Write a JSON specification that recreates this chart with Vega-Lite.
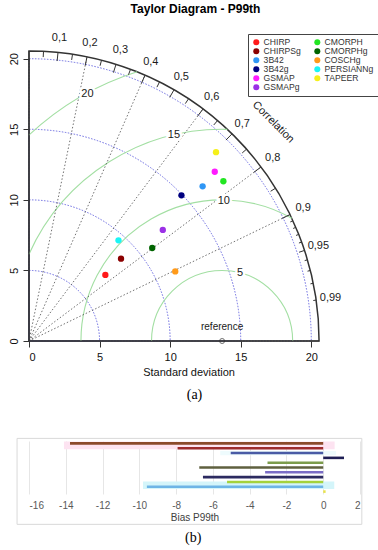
{
  "$schema": "https://vega.github.io/schema/vega-lite/v6.json",
  "background": "white",
  "padding": {"left": 8, "top": 3, "right": 3, "bottom": 3},
  "config": {
    "font": "Liberation Sans",
    "view": {"stroke": null},
    "axis": {"labelFont": "Liberation Sans", "titleFont": "Liberation Sans", "labelOverlap": false}
  },
  "bounds": "flush",
  "spacing": 100,
  "resolve": {"scale": {"color": "independent"}, "legend": {"color": "independent"}},
  "title": {"text": "(b)", "orient": "bottom", "anchor": "middle", "font": "Liberation Serif", "fontSize": 14, "fontWeight": "normal", "color": "#000", "offset": 6},
  "vconcat": [
    {
      "width": 319,
      "height": 319,
      "title": {"text": "Taylor Diagram - P99th", "fontSize": 12, "fontWeight": "bold", "color": "#000", "offset": 6, "anchor": "middle", "dx": 7},
      "layer": [
        {
          "data": {"values": [{"r": 5, "t1": 0, "t2": 90}, {"r": 10, "t1": 0, "t2": 90}, {"r": 15, "t1": 0, "t2": 90}, {"r": 20, "t1": 0, "t2": 90}]},
          "mark": {"type": "arc", "filled": false, "stroke": "#5b5bdc", "strokeWidth": 0.9, "strokeDash": [1.5, 1.5]},
          "encoding": {
            "x": {"datum": 0, "type": "quantitative", "stack": null, "scale": {"domain": [0, 22.6], "nice": false, "zero": true},
              "axis": {"values": [0, 5, 10, 15, 20], "tickCount": 20, "title": "Standard deviation", "domain": false, "grid": false, "tickSize": 6, "tickColor": "#333333", "labelFontSize": 11, "labelColor": "#111111", "labelPadding": 4, "labelOverlap": false, "titleFontSize": 11, "titleFontWeight": "normal", "titleColor": "#111111", "titlePadding": 4}},
            "y": {"datum": 0, "type": "quantitative", "stack": null, "scale": {"domain": [0, 22.6], "nice": false, "zero": true},
              "axis": {"values": [0, 5, 10, 15, 20], "tickCount": 20, "title": null, "domain": false, "grid": false, "tickSize": 6, "tickColor": "#333333", "labelFontSize": 11, "labelColor": "#111111", "labelAngle": -90, "labelPadding": 4, "labelOverlap": false}},
            "radius": {"field": "r", "type": "quantitative", "stack": null, "scale": {"type": "linear", "domain": [0, 22.6], "range": [0, 319], "zero": true, "nice": false}},
            "theta": {"field": "t1", "type": "quantitative", "stack": null, "scale": {"type": "linear", "domain": [0, 360], "range": [0, 6.283185307179586]}},
            "theta2": {"field": "t2"}
          }
        },
        {
          "data": {"values": [{"r": 20.55, "t1": 0, "t2": 90}]},
          "mark": {"type": "arc", "filled": false, "stroke": "#333333", "strokeWidth": 1.5},
          "encoding": {
            "x": {"datum": 0, "type": "quantitative", "stack": null},
            "y": {"datum": 0, "type": "quantitative", "stack": null},
            "radius": {"field": "r", "type": "quantitative", "stack": null},
            "theta": {"field": "t1", "type": "quantitative", "stack": null},
            "theta2": {"field": "t2"}
          }
        },
        {
          "data": {"values": [
            {"r": 5, "t1": -90, "t2": 90},
            {"r": 10, "t1": -90, "t2": 29.6},
            {"r": 15, "t1": -65.8, "t2": 1.4},
            {"r": 20, "t1": -43.2, "t2": -17.5}
          ]},
          "mark": {"type": "arc", "filled": false, "stroke": "#a3dfa3", "strokeWidth": 1.1},
          "encoding": {
            "x": {"datum": 13.68, "type": "quantitative", "stack": null},
            "y": {"datum": 0, "type": "quantitative", "stack": null},
            "radius": {"field": "r", "type": "quantitative", "stack": null},
            "radius2": {"field": "r"},
            "theta": {"field": "t1", "type": "quantitative", "stack": null},
            "theta2": {"field": "t2"}
          }
        },
        {
          "data": {"values": [
            {"x": 0, "y": 0, "x2": 4.11, "y2": 20.135},
            {"x": 0, "y": 0, "x2": 8.22, "y2": 18.834},
            {"x": 0, "y": 0, "x2": 12.33, "y2": 16.44},
            {"x": 0, "y": 0, "x2": 16.44, "y2": 12.33},
            {"x": 0, "y": 0, "x2": 18.495, "y2": 8.958}
          ]},
          "mark": {"type": "rule", "stroke": "#4d4d4d", "strokeWidth": 0.8, "strokeDash": [1.5, 2]},
          "encoding": {
            "x": {"field": "x", "type": "quantitative"},
            "y": {"field": "y", "type": "quantitative"},
            "x2": {"field": "x2"},
            "y2": {"field": "y2"}
          }
        },
        {
          "data": {"values": [
            {"x": 2.055, "y": 20.447, "x2": 1.993, "y2": 19.834},
            {"x": 4.11, "y": 20.135, "x2": 3.987, "y2": 19.531},
            {"x": 6.165, "y": 19.603, "x2": 5.98, "y2": 19.015},
            {"x": 8.22, "y": 18.834, "x2": 7.973, "y2": 18.269},
            {"x": 10.275, "y": 17.797, "x2": 9.967, "y2": 17.263},
            {"x": 12.33, "y": 16.44, "x2": 11.96, "y2": 15.947},
            {"x": 14.385, "y": 14.676, "x2": 13.953, "y2": 14.235},
            {"x": 16.44, "y": 12.33, "x2": 15.947, "y2": 11.96},
            {"x": 18.495, "y": 8.958, "x2": 17.94, "y2": 8.689},
            {"x": 1.0275, "y": 20.524, "x2": 1.007, "y2": 20.114},
            {"x": 3.0825, "y": 20.318, "x2": 3.021, "y2": 19.911},
            {"x": 5.1375, "y": 19.898, "x2": 5.035, "y2": 19.5},
            {"x": 7.1925, "y": 19.25, "x2": 7.049, "y2": 18.865},
            {"x": 9.2475, "y": 18.352, "x2": 9.063, "y2": 17.985},
            {"x": 11.3025, "y": 17.163, "x2": 11.076, "y2": 16.819},
            {"x": 13.3575, "y": 15.617, "x2": 13.09, "y2": 15.304},
            {"x": 15.4125, "y": 13.593, "x2": 15.104, "y2": 13.321},
            {"x": 17.4675, "y": 10.825, "x2": 17.118, "y2": 10.609},
            {"x": 19.5225, "y": 6.417, "x2": 19.132, "y2": 6.288},
            {"x": 18.7005, "y": 8.52, "x2": 18.513, "y2": 8.435},
            {"x": 18.906, "y": 8.054, "x2": 18.717, "y2": 7.973},
            {"x": 19.1115, "y": 7.553, "x2": 18.92, "y2": 7.478},
            {"x": 19.317, "y": 7.011, "x2": 19.124, "y2": 6.941},
            {"x": 19.728, "y": 5.754, "x2": 19.531, "y2": 5.696},
            {"x": 19.9335, "y": 4.996, "x2": 19.734, "y2": 4.946},
            {"x": 20.139, "y": 4.09, "x2": 19.938, "y2": 4.049},
            {"x": 20.3445, "y": 2.899, "x2": 20.141, "y2": 2.87}
          ]},
          "mark": {"type": "rule", "stroke": "#333333", "strokeWidth": 1},
          "encoding": {
            "x": {"field": "x", "type": "quantitative"},
            "y": {"field": "y", "type": "quantitative"},
            "x2": {"field": "x2"},
            "y2": {"field": "y2"}
          }
        },
        {
          "data": {"values": [
            {"x": 0, "y": 0, "x2": 20.55, "y2": 0},
            {"x": 0, "y": 0, "x2": 0, "y2": 20.55}
          ]},
          "mark": {"type": "rule", "stroke": "#333333", "strokeWidth": 1.2},
          "encoding": {
            "x": {"field": "x", "type": "quantitative"},
            "y": {"field": "y", "type": "quantitative"},
            "x2": {"field": "x2"},
            "y2": {"field": "y2"}
          }
        },
        {
          "data": {"values": [
            {"x": 14.96, "y": 4.8, "t": "5"},
            {"x": 13.8, "y": 9.95, "t": "10"},
            {"x": 10.27, "y": 14.56, "t": "15"},
            {"x": 4.14, "y": 17.47, "t": "20"}
          ]},
          "layer": [
            {
              "mark": {"type": "text", "fontSize": 11, "fill": "white", "stroke": "white", "strokeWidth": 5, "align": "center", "baseline": "middle"},
              "encoding": {
                "x": {"field": "x", "type": "quantitative"},
                "y": {"field": "y", "type": "quantitative"},
                "text": {"field": "t"}
              }
            },
            {
              "mark": {"type": "text", "fontSize": 11, "color": "#1a1a1a", "align": "center", "baseline": "middle"},
              "encoding": {
                "x": {"field": "x", "type": "quantitative"},
                "y": {"field": "y", "type": "quantitative"},
                "text": {"field": "t"}
              }
            }
          ]
        },
        {
          "data": {"values": [
            {"x": 2.158, "y": 21.47, "t": "0,1"},
            {"x": 4.316, "y": 21.141, "t": "0,2"},
            {"x": 6.473, "y": 20.584, "t": "0,3"},
            {"x": 8.631, "y": 19.776, "t": "0,4"},
            {"x": 10.789, "y": 18.687, "t": "0,5"},
            {"x": 12.947, "y": 17.262, "t": "0,6"},
            {"x": 15.104, "y": 15.409, "t": "0,7"},
            {"x": 17.262, "y": 12.947, "t": "0,8"},
            {"x": 19.42, "y": 9.405, "t": "0,9"},
            {"x": 20.499, "y": 6.738, "t": "0,95"},
            {"x": 21.362, "y": 3.044, "t": "0,99"}
          ]},
          "mark": {"type": "text", "fontSize": 11, "color": "#1a1a1a", "align": "center", "baseline": "middle"},
          "encoding": {
            "x": {"field": "x", "type": "quantitative"},
            "y": {"field": "y", "type": "quantitative"},
            "text": {"field": "t"}
          }
        },
        {
          "data": {"values": [{"x": 17.3, "y": 15.5, "t": "Correlation"}]},
          "mark": {"type": "text", "fontSize": 11, "color": "#1a1a1a", "align": "center", "baseline": "middle", "angle": 45},
          "encoding": {
            "x": {"field": "x", "type": "quantitative"},
            "y": {"field": "y", "type": "quantitative"},
            "text": {"field": "t"}
          }
        },
        {
          "data": {"values": [{"x": 13.68, "y": 1.0, "t": "reference"}]},
          "mark": {"type": "text", "fontSize": 10, "color": "#1a1a1a", "align": "center", "baseline": "middle"},
          "encoding": {
            "x": {"field": "x", "type": "quantitative"},
            "y": {"field": "y", "type": "quantitative"},
            "text": {"field": "t"}
          }
        },
        {
          "data": {"values": [{"x": 13.68, "y": 0}]},
          "mark": {"type": "point", "shape": "circle", "filled": false, "stroke": "#333333", "strokeWidth": 1, "size": 25},
          "encoding": {
            "x": {"field": "x", "type": "quantitative"},
            "y": {"field": "y", "type": "quantitative"}
          }
        },
        {
          "data": {"values": [
            {"name": "CHIRP", "x": 5.41, "y": 4.68},
            {"name": "CHIRPSg", "x": 6.52, "y": 5.83},
            {"name": "3B42", "x": 12.3, "y": 10.96},
            {"name": "3B42g", "x": 10.8, "y": 10.32},
            {"name": "GSMAP", "x": 13.16, "y": 11.99},
            {"name": "GSMAPg", "x": 9.48, "y": 7.87},
            {"name": "CMORPH", "x": 13.77, "y": 11.32},
            {"name": "CMORPHg", "x": 8.73, "y": 6.59},
            {"name": "COSCHg", "x": 10.36, "y": 4.93},
            {"name": "PERSIANNg", "x": 6.34, "y": 7.13},
            {"name": "TAPEER", "x": 13.25, "y": 13.38}
          ]},
          "mark": {"type": "point", "shape": "circle", "filled": true, "size": 40, "opacity": 1},
          "encoding": {
            "x": {"field": "x", "type": "quantitative"},
            "y": {"field": "y", "type": "quantitative"},
            "color": {
              "field": "name", "type": "nominal",
              "scale": {
                "domain": ["CHIRP", "CHIRPSg", "3B42", "3B42g", "GSMAP", "GSMAPg", "CMORPH", "CMORPHg", "COSCHg", "PERSIANNg", "TAPEER"],
                "range": ["#ff1a1a", "#8b0000", "#2f96f5", "#00007f", "#ff1aff", "#9b30e6", "#22e622", "#006400", "#ff9a1a", "#1af5f5", "#f5f01a"]
              },
              "legend": {"title": null, "orient": "none", "legendX": 219, "legendY": 12, "columns": 2, "symbolType": "circle", "symbolSize": 36, "symbolStrokeWidth": 0, "labelFontSize": 8.6, "labelColor": "#333333", "strokeColor": "#444444", "fillColor": "white", "padding": 4, "rowPadding": 0, "columnPadding": 12, "labelOffset": 3, "cornerRadius": 0, "labelLimit": 100}
            }
          }
        }
      ]
    },
    {
      "width": 331,
      "height": 53,
      "title": {"text": "(a)", "font": "Liberation Serif", "fontSize": 14, "fontWeight": "normal", "color": "#000", "offset": 36, "anchor": "middle"},
      "layer": [
        {
          "data": {"values": [{"x": -16.65, "x2": 2.1, "y": -0.04, "y2": 17.8}]},
          "mark": {"type": "rect", "filled": false, "stroke": "#d9d9d9", "strokeWidth": 1},
          "encoding": {
            "x": {"field": "x", "type": "quantitative", "scale": {"domain": [-16, 2], "nice": false, "zero": false},
              "axis": {"values": [-16, -14, -12, -10, -8, -6, -4, -2, 0, 2], "tickCount": 20, "grid": true, "gridColor": "#e6e6e6", "domain": false, "ticks": false, "labelFontSize": 10, "labelColor": "#595959", "labelPadding": 6, "labelOverlap": false, "labelExpr": "toString(datum.value)", "title": "Bias P99th", "titleFontSize": 10, "titleFontWeight": "normal", "titleColor": "#404040", "titlePadding": 2}},
            "x2": {"field": "x2"},
            "y": {"field": "y", "type": "quantitative", "scale": {"domain": [0.5, 11.5], "reverse": true, "nice": false, "zero": false}, "axis": null},
            "y2": {"field": "y2"}
          }
        },
        {
          "data": {"values": [
            {"x": -14.1, "x2": 0.62, "y": 0.58, "y2": 2.19, "k": "a"},
            {"x": -5.6, "x2": 0.7, "y": 2.6, "y2": 3.45, "k": "b"},
            {"x": -9.8, "x2": 0.6, "y": 8.92, "y2": 10.44, "k": "c"}
          ]},
          "mark": {"type": "rect"},
          "encoding": {
            "x": {"field": "x", "type": "quantitative"},
            "x2": {"field": "x2"},
            "y": {"field": "y", "type": "quantitative"},
            "y2": {"field": "y2"},
            "fill": {"field": "k", "type": "nominal", "legend": null, "scale": {"domain": ["a", "b", "c"], "range": ["#fde3f1", "#eefbfd", "#d4f5fa"]}}
          }
        },
        {
          "data": {"values": [
            {"row": 1, "name": "CHIRP", "bias": -13.77, "zero": 0},
            {"row": 2, "name": "CHIRPSg", "bias": -7.92, "zero": 0},
            {"row": 3, "name": "3B42", "bias": -5.03, "zero": 0},
            {"row": 4, "name": "3B42g", "bias": 1.13, "zero": 0},
            {"row": 5, "name": "GSMAP", "bias": -3.03, "zero": 0},
            {"row": 6, "name": "GSMAPg", "bias": -6.74, "zero": 0},
            {"row": 7, "name": "CMORPH", "bias": -3.16, "zero": 0},
            {"row": 8, "name": "CMORPHg", "bias": -6.54, "zero": 0},
            {"row": 9, "name": "COSCHg", "bias": -5.23, "zero": 0},
            {"row": 10, "name": "PERSIANNg", "bias": -9.59, "zero": 0},
            {"row": 11, "name": "TAPEER", "bias": 0.13, "zero": 0}
          ]},
          "mark": {"type": "rule", "strokeWidth": 2.6},
          "encoding": {
            "x": {"field": "bias", "type": "quantitative"},
            "x2": {"field": "zero"},
            "y": {"field": "row", "type": "quantitative"},
            "color": {
              "field": "name", "type": "nominal", "legend": null,
              "scale": {
                "domain": ["CHIRP", "CHIRPSg", "3B42", "3B42g", "GSMAP", "GSMAPg", "CMORPH", "CMORPHg", "COSCHg", "PERSIANNg", "TAPEER"],
                "range": ["#8b4a2b", "#9e2b2e", "#4a5ba5", "#1f1f55", "#7c9c4c", "#5f603f", "#7a6cc6", "#2c2a60", "#a4d23c", "#6eb5e6", "#e8e24a"]
              }
            }
          }
        }
      ]
    }
  ]
}
